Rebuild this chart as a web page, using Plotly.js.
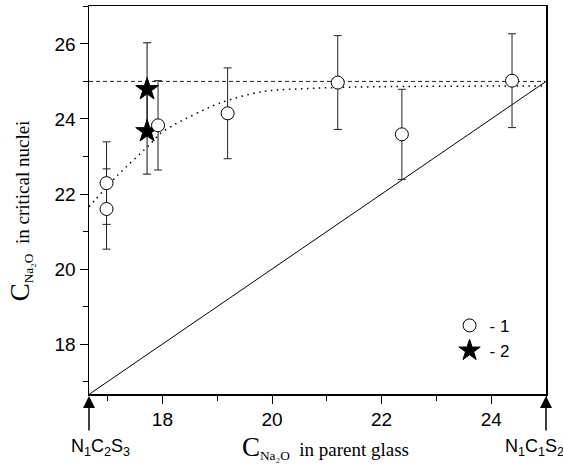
<!DOCTYPE html>
<html>
<head>
<meta charset="utf-8">
<script src="https://cdn.plot.ly/plotly-3.0.1.min.js"></script>
<style>html,body{margin:0;padding:0;background:#fff;}#chart{width:563px;height:467px;}</style>
</head>
<body>
<div id="chart"></div>
<script>
// Series 1 (open circles)
const x1 = [16.98, 16.98, 17.92, 19.19, 21.20, 22.37, 24.38];
const y1 = [22.29, 21.60, 23.83, 24.15, 24.97, 23.59, 25.02];
const err1 = [1.10, 1.07, 1.19, 1.21, 1.25, 1.20, 1.25];
// Series 2 (stars)
const x2 = [17.72, 17.72];
const y2 = [24.79, 23.67];
const err2 = [1.24, 1.14];
// Dotted fit curve
const fitX = [16.66, 16.77, 17.19, 17.79, 17.95, 18.22, 19.04, 19.83, 20.81, 22.0, 25.0];
const fitY = [21.66, 21.84, 22.51, 23.35, 23.60, 23.85, 24.42, 24.73, 24.82, 24.86, 24.88];
// Dashed plateau line
const plateauX = [16.66, 25.0];
const plateauY = [25.0, 25.0];
// Diagonal line C(nuclei) = C(glass)
const diagX = [16.66, 25.0];
const diagY = [16.66, 25.0];
// Axis ranges and ticks
const xRange = [16.66, 25.0];
const yRange = [16.67, 27.01];
const legendNames = ['- 1', '- 2'];
const leftLabel = 'N<sub>1</sub>C<sub>2</sub>S<sub>3</sub>';
const rightLabel = 'N<sub>1</sub>C<sub>1</sub>S<sub>2</sub>';

const serif = 'Liberation Serif, Times New Roman, serif';
const sans = 'Liberation Sans, Arial, sans-serif';

const traces = [
  {x: diagX, y: diagY, mode: 'lines', line: {color: '#000', width: 1}, showlegend: false, hoverinfo: 'skip'},
  {x: plateauX, y: plateauY, mode: 'lines', line: {color: '#222', width: 1, dash: '4px,3px'}, showlegend: false, hoverinfo: 'skip'},
  {x: fitX, y: fitY, mode: 'lines', line: {color: '#000', width: 1.5, dash: '1.5px,4.5px', shape: 'spline', smoothing: 0.8}, showlegend: false, hoverinfo: 'skip'},
  {x: x2, y: y2, mode: 'markers', name: legendNames[1],
   marker: {symbol: 'star', size: 17, color: '#000', line: {color: '#000', width: 1}},
   error_y: {type: 'data', array: err2, visible: true, color: '#111', thickness: 1, width: 4}},
  {x: x1, y: y1, mode: 'markers', name: legendNames[0],
   marker: {symbol: 'circle', size: 13, color: '#fff', line: {color: '#000', width: 1}},
   error_y: {type: 'data', array: err1, visible: true, color: '#222', thickness: 1, width: 4}}
];

const layout = {
  width: 563, height: 467,
  margin: {l: 89, r: 17, t: 6, b: 73},
  paper_bgcolor: '#fff', plot_bgcolor: '#fff',
  showlegend: true,
  legend: {x: 0.789, y: 0.222, xanchor: 'left', yanchor: 'top', font: {family: sans, size: 17, color: '#000'},
           bgcolor: 'rgba(0,0,0,0)', traceorder: 'reversed', tracegroupgap: 0},
  xaxis: {range: xRange, showgrid: false, zeroline: false, showline: true, mirror: true,
          linecolor: '#000', linewidth: 1.5, ticks: 'outside', ticklen: 8, tickwidth: 1, tickcolor: '#000',
          tick0: 0, dtick: 2, tickfont: {family: sans, size: 19, color: '#000'},
          minor: {dtick: 1, tick0: 0, ticks: 'outside', ticklen: 5, tickwidth: 1, tickcolor: '#000', showgrid: false}},
  yaxis: {range: yRange, showgrid: false, zeroline: false, showline: true, mirror: true,
          linecolor: '#000', linewidth: 1.5, ticks: 'outside', ticklen: 8, tickwidth: 1, tickcolor: '#000',
          tick0: 0, dtick: 2, tickfont: {family: sans, size: 19, color: '#000'},
          minor: {dtick: 1, tick0: 0, ticks: 'outside', ticklen: 5, tickwidth: 1, tickcolor: '#000', showgrid: false}},
  annotations: [
    // x title
    {xref: 'paper', yref: 'paper', x: 0.517, y: -0.139, xanchor: 'center', yanchor: 'middle', showarrow: false,
     text: '<span style="font-size:27px">C</span><sub>Na₂O</sub>  in parent glass', font: {family: serif, size: 19, color: '#000'}},
    // y title
    {xref: 'paper', yref: 'paper', x: -0.15, y: 0.472, xanchor: 'center', yanchor: 'middle', showarrow: false, textangle: -90,
     text: '<span style="font-size:27px">C</span><sub>Na₂O</sub>  in critical nuclei', font: {family: serif, size: 19, color: '#000'}},
    // arrows
    {xref: 'paper', yref: 'paper', x: 0, y: -0.005, ax: 0, ay: 36, axref: 'pixel', ayref: 'pixel', text: '', showarrow: true,
     arrowhead: 2, arrowsize: 1.6, arrowwidth: 1.5, arrowcolor: '#000', standoff: 0},
    {xref: 'paper', yref: 'paper', x: 1, y: -0.005, ax: 0, ay: 36, axref: 'pixel', ayref: 'pixel', text: '', showarrow: true,
     arrowhead: 2, arrowsize: 1.6, arrowwidth: 1.5, arrowcolor: '#000', standoff: 0},
    // labels under arrows
    {xref: 'paper', yref: 'paper', x: 0.026, y: -0.104, xanchor: 'center', yanchor: 'top', showarrow: false,
     text: leftLabel, font: {family: sans, size: 18, color: '#000'}},
    {xref: 'paper', yref: 'paper', x: 0.975, y: -0.104, xanchor: 'center', yanchor: 'top', showarrow: false,
     text: rightLabel, font: {family: sans, size: 18, color: '#000'}}
  ]
};

Plotly.newPlot('chart', traces, layout, {displayModeBar: false, staticPlot: true});
</script>
</body>
</html>
